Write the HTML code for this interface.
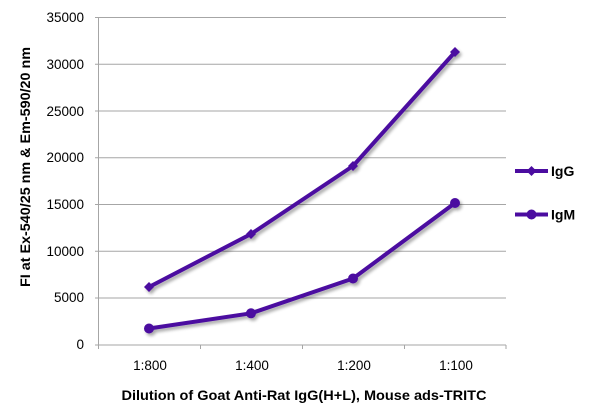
<!DOCTYPE html>
<html><head><meta charset="utf-8"><style>
html,body{margin:0;padding:0;background:#fff;}
svg{display:block;}
text{font-family:"Liberation Sans",sans-serif;fill:#000;}
</style></head><body>
<svg width="600" height="418" viewBox="0 0 600 418" xmlns="http://www.w3.org/2000/svg">
<defs>
<filter id="sh" x="-10%" y="-10%" width="130%" height="130%">
<feGaussianBlur in="SourceAlpha" stdDeviation="1.5"/>
<feOffset dx="2" dy="2.5" result="b"/>
<feComponentTransfer><feFuncA type="linear" slope="0.35"/></feComponentTransfer>
<feMerge><feMergeNode/><feMergeNode in="SourceGraphic"/></feMerge>
</filter>
</defs>
<!-- gridlines -->
<g stroke="#a6a6a6" stroke-width="1">
<line x1="95" y1="17.5" x2="506" y2="17.5"/>
<line x1="95" y1="64.3" x2="506" y2="64.3"/>
<line x1="95" y1="111" x2="506" y2="111"/>
<line x1="95" y1="157.8" x2="506" y2="157.8"/>
<line x1="95" y1="204.5" x2="506" y2="204.5"/>
<line x1="95" y1="251.3" x2="506" y2="251.3"/>
<line x1="95" y1="298" x2="506" y2="298"/>
<line x1="95" y1="345" x2="506" y2="345"/>
<line x1="98.5" y1="17.5" x2="98.5" y2="345"/>
<line x1="98.5" y1="345" x2="98.5" y2="349"/>
<line x1="200.5" y1="345" x2="200.5" y2="349"/>
<line x1="302.5" y1="345" x2="302.5" y2="349"/>
<line x1="404.5" y1="345" x2="404.5" y2="349"/>
<line x1="506" y1="345" x2="506" y2="349"/>
</g>
<!-- y tick labels -->
<g font-size="13.5" text-anchor="end">
<text x="84" y="22">35000</text>
<text x="84" y="69">30000</text>
<text x="84" y="116">25000</text>
<text x="84" y="162">20000</text>
<text x="84" y="209">15000</text>
<text x="84" y="256">10000</text>
<text x="84" y="302">5000</text>
<text x="84" y="349">0</text>
</g>
<!-- x tick labels -->
<g font-size="13.5" text-anchor="middle">
<text x="150" y="370">1:800</text>
<text x="252" y="370">1:400</text>
<text x="354" y="370">1:200</text>
<text x="456" y="370">1:100</text>
</g>
<!-- axis titles -->
<text x="304" y="400" font-size="14" font-weight="bold" text-anchor="middle" textLength="365" lengthAdjust="spacingAndGlyphs">Dilution of Goat Anti-Rat IgG(H+L), Mouse ads-TRITC</text>
<text transform="translate(30,167) rotate(-90)" font-size="14" font-weight="bold" text-anchor="middle" textLength="240" lengthAdjust="spacingAndGlyphs">FI at Ex-540/25 nm &amp; Em-590/20 nm</text>
<!-- series -->
<g filter="url(#sh)" fill="#4b0ca0" stroke="#4b0ca0">
<polyline points="149,287 251,234 353,166 455,52" fill="none" stroke-width="4" stroke-linejoin="round"/>
<polygon points="149,282 154,287 149,292 144,287" stroke="none"/>
<polygon points="251,229 256,234 251,239 246,234" stroke="none"/>
<polygon points="353,161 358,166 353,171 348,166" stroke="none"/>
<polygon points="455,47 460,52 455,57 450,52" stroke="none"/>
<polyline points="149,328.5 251,313.3 353,278.5 455,203" fill="none" stroke-width="4" stroke-linejoin="round"/>
<circle cx="149" cy="328.5" r="5" stroke="none"/>
<circle cx="251" cy="313.3" r="5" stroke="none"/>
<circle cx="353" cy="278.5" r="5" stroke="none"/>
<circle cx="455" cy="203" r="5" stroke="none"/>
</g>
<!-- legend -->
<g fill="#4b0ca0" stroke="#4b0ca0">
<line x1="515" y1="171" x2="548" y2="171" stroke-width="4"/>
<polygon points="531.5,166 536.5,171 531.5,176 526.5,171" stroke="none"/>
<line x1="515" y1="214.5" x2="548" y2="214.5" stroke-width="4"/>
<circle cx="531.5" cy="214.5" r="5" stroke="none"/>
</g>
<g font-size="14" font-weight="bold">
<text x="551" y="176">IgG</text>
<text x="551" y="219.5">IgM</text>
</g>
</svg>
</body></html>
